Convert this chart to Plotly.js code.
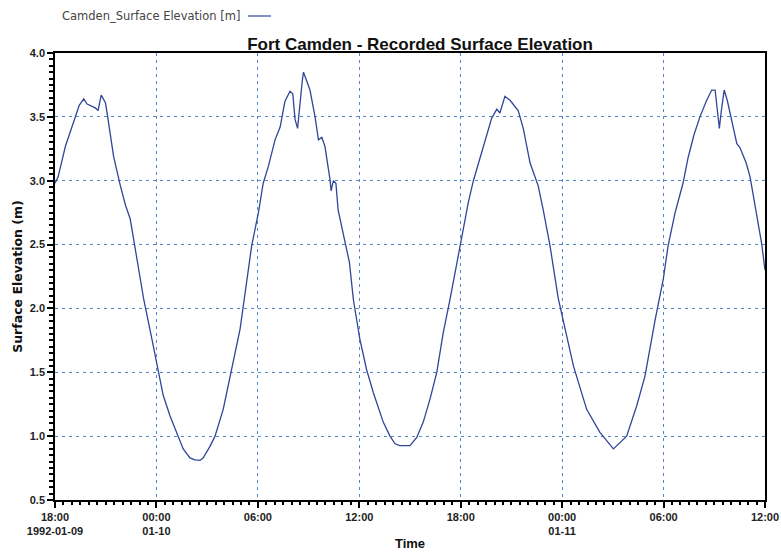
<!DOCTYPE html>
<html>
<head>
<meta charset="utf-8">
<script src="https://cdn.plot.ly/plotly-3.0.1.min.js"></script>
<style>html,body{margin:0;padding:0;background:#fff;}#chart{width:781px;height:552px;}</style>
</head>
<body>
<div id="chart"></div>
<script>
const times = [
"1992-01-09 18:00","1992-01-09 18:11","1992-01-09 18:37","1992-01-09 19:12","1992-01-09 19:26","1992-01-09 19:42","1992-01-09 19:54","1992-01-09 20:23","1992-01-09 20:33","1992-01-09 20:44","1992-01-09 20:59","1992-01-09 21:05","1992-01-09 21:28","1992-01-09 21:52","1992-01-09 22:10","1992-01-09 22:27","1992-01-09 22:45","1992-01-09 23:15","1992-01-09 23:44",
"1992-01-10 00:07","1992-01-10 00:24","1992-01-10 00:48","1992-01-10 01:18","1992-01-10 01:35","1992-01-10 01:59","1992-01-10 02:17","1992-01-10 02:35","1992-01-10 02:46","1992-01-10 03:10","1992-01-10 03:28","1992-01-10 03:57","1992-01-10 04:21","1992-01-10 04:57","1992-01-10 05:38","1992-01-10 06:02","1992-01-10 06:19","1992-01-10 06:37","1992-01-10 07:01","1992-01-10 07:19","1992-01-10 07:36","1992-01-10 07:54","1992-01-10 08:04","1992-01-10 08:12","1992-01-10 08:21","1992-01-10 08:30","1992-01-10 08:38","1992-01-10 08:42","1992-01-10 09:05","1992-01-10 09:23","1992-01-10 09:35","1992-01-10 09:47","1992-01-10 09:58","1992-01-10 10:16","1992-01-10 10:20","1992-01-10 10:28","1992-01-10 10:37","1992-01-10 10:45","1992-01-10 11:09","1992-01-10 11:25","1992-01-10 11:39","1992-01-10 12:02","1992-01-10 12:26","1992-01-10 12:50","1992-01-10 13:25","1992-01-10 13:49","1992-01-10 14:07","1992-01-10 14:24","1992-01-10 15:00","1992-01-10 15:24","1992-01-10 15:47","1992-01-10 16:11","1992-01-10 16:35","1992-01-10 16:58","1992-01-10 17:22","1992-01-10 17:57","1992-01-10 18:27","1992-01-10 18:45","1992-01-10 19:20","1992-01-10 19:50","1992-01-10 20:08","1992-01-10 20:19","1992-01-10 20:37","1992-01-10 20:55","1992-01-10 21:24","1992-01-10 21:42","1992-01-10 22:06","1992-01-10 22:18","1992-01-10 22:35","1992-01-10 22:53","1992-01-10 23:17","1992-01-10 23:46",
"1992-01-11 00:40","1992-01-11 01:27","1992-01-11 02:14","1992-01-11 03:02","1992-01-11 03:49","1992-01-11 04:25","1992-01-11 04:54","1992-01-11 05:30","1992-01-11 05:59","1992-01-11 06:16","1992-01-11 06:41","1992-01-11 07:09","1992-01-11 07:27","1992-01-11 07:48","1992-01-11 08:09","1992-01-11 08:33","1992-01-11 08:51","1992-01-11 09:03","1992-01-11 09:11","1992-01-11 09:18","1992-01-11 09:24","1992-01-11 09:35","1992-01-11 09:46","1992-01-11 10:02","1992-01-11 10:20","1992-01-11 10:31","1992-01-11 10:53","1992-01-11 11:07","1992-01-11 11:25","1992-01-11 11:48","1992-01-11 12:00"
];
const elevation = [
2.98,3.03,3.27,3.50,3.59,3.64,3.60,3.57,3.55,3.67,3.61,3.53,3.19,2.96,2.81,2.70,2.46,2.07,1.76,
1.50,1.32,1.16,1.00,0.90,0.83,0.815,0.81,0.83,0.92,1.00,1.21,1.47,1.84,2.49,2.75,2.98,3.11,3.32,3.42,3.62,3.70,3.68,3.48,3.41,3.63,3.79,3.85,3.71,3.50,3.32,3.34,3.27,3.01,2.92,3.00,2.98,2.77,2.51,2.36,2.07,1.76,1.52,1.34,1.11,1.00,0.94,0.925,0.925,0.99,1.11,1.29,1.50,1.81,2.07,2.49,2.83,3.00,3.27,3.49,3.56,3.53,3.66,3.63,3.55,3.41,3.14,3.07,2.96,2.77,2.49,2.08,
1.55,1.21,1.03,0.90,1.00,1.24,1.47,1.91,2.23,2.49,2.75,2.98,3.18,3.36,3.50,3.63,3.71,3.71,3.55,3.41,3.53,3.71,3.63,3.48,3.29,3.26,3.14,3.03,2.80,2.51,2.30
];
const xTickVals = ["1992-01-09 18:00","1992-01-10 00:00","1992-01-10 06:00","1992-01-10 12:00","1992-01-10 18:00","1992-01-11 00:00","1992-01-11 06:00","1992-01-11 12:00"];
const xTickText = ["18:00<br>1992-01-09","00:00<br>01-10","06:00","12:00","18:00","00:00<br>01-11","06:00","12:00"];
const xRange = ["1992-01-09 18:00","1992-01-11 12:00"];
const yRange = [0.5, 4.0];
const seriesName = "Camden_Surface Elevation [m]";

const lineColor = "#2f4699";
const gridColor = "#5288c8";
const tickFont = {family: "Liberation Sans, Arial, sans-serif", size: 11, color: "#222", weight: "bold"};

const trace = {
  x: times, y: elevation, type: "scatter", mode: "lines", name: seriesName,
  line: {color: lineColor, width: 1.3}, showlegend: false, hoverinfo: "skip"
};
// invisible companion trace on an overlaid x axis, used only to draw the 30-minute minor ticks
const tickTrace = {
  x: times, y: elevation, type: "scatter", mode: "lines", xaxis: "x2", yaxis: "y",
  line: {color: "rgba(0,0,0,0)", width: 0}, showlegend: false, hoverinfo: "skip"
};

const ML = 55, MR = 16, MT = 53, MB = 52;
const plotW = 781 - ML - MR, plotH = 552 - MT - MB;

const layout = {
  width: 781, height: 552,
  margin: {l: ML, r: MR, t: MT, b: MB},
  paper_bgcolor: "#fff", plot_bgcolor: "#fff",
  title: {text: "Fort Camden - Recorded Surface Elevation", xref: "paper", x: (420 - ML) / plotW, xanchor: "center", y: 0.921, yanchor: "middle",
          font: {family: "Liberation Sans, Arial, sans-serif", size: 17, color: "#111", weight: "bold"}},
  xaxis: {
    type: "date", range: xRange,
    tickmode: "array", tickvals: xTickVals, ticktext: xTickText,
    tickfont: tickFont, ticks: "outside", ticklen: 6, tickcolor: "#000", tickwidth: 1.5,
    showline: true, linecolor: "#000", linewidth: 1.5, mirror: true,
    showgrid: true, gridcolor: gridColor, gridwidth: 1, griddash: "3px,4px",
    zeroline: false,
    title: {text: "Time", font: {family: "Liberation Sans, Arial, sans-serif", size: 13, color: "#111", weight: "bold"}, standoff: 3}
  },
  xaxis2: {
    type: "date", range: xRange, overlaying: "x", anchor: "y", side: "bottom",
    tickmode: "linear", tick0: "1992-01-09 18:00", dtick: 30*60*1000,
    ticks: "outside", ticklen: 4, tickcolor: "#000", tickwidth: 1.5,
    showticklabels: false, showgrid: false, showline: false, zeroline: false
  },
  yaxis: {
    range: yRange,
    tickmode: "linear", tick0: 0.5, dtick: 0.5, tickformat: ".1f",
    tickfont: tickFont, ticks: "outside", ticklen: 6, tickcolor: "#000", tickwidth: 1.5,
    showline: true, linecolor: "#000", linewidth: 1.5, mirror: true,
    showgrid: true, gridcolor: gridColor, gridwidth: 1, griddash: "3px,4px",
    minor: {dtick: 0.05, ticks: "outside", ticklen: 4, tickcolor: "#000", tickwidth: 1.5, showgrid: false},
    zeroline: false,
    title: {text: "Surface Elevation (m)", font: {family: "DejaVu Sans, Verdana, sans-serif", size: 12.5, color: "#111", weight: "bold"}, standoff: 4}
  },
  annotations: [{
    xref: "paper", yref: "paper", x: (242 - ML) / plotW, y: (552 - MB - 16) / plotH,
    xanchor: "right", yanchor: "middle",
    text: seriesName, showarrow: false,
    font: {family: "DejaVu Sans, Verdana, sans-serif", size: 11.5, color: "#444"}
  }],
  shapes: [{type: "line", xref: "paper", yref: "paper",
    x0: (248 - ML) / plotW, x1: (271 - ML) / plotW,
    y0: (552 - MB - 16) / plotH, y1: (552 - MB - 16) / plotH,
    line: {color: lineColor, width: 1.2}}]
};

Plotly.newPlot("chart", [trace, tickTrace], layout, {displayModeBar: false});
</script>
</body>
</html>
